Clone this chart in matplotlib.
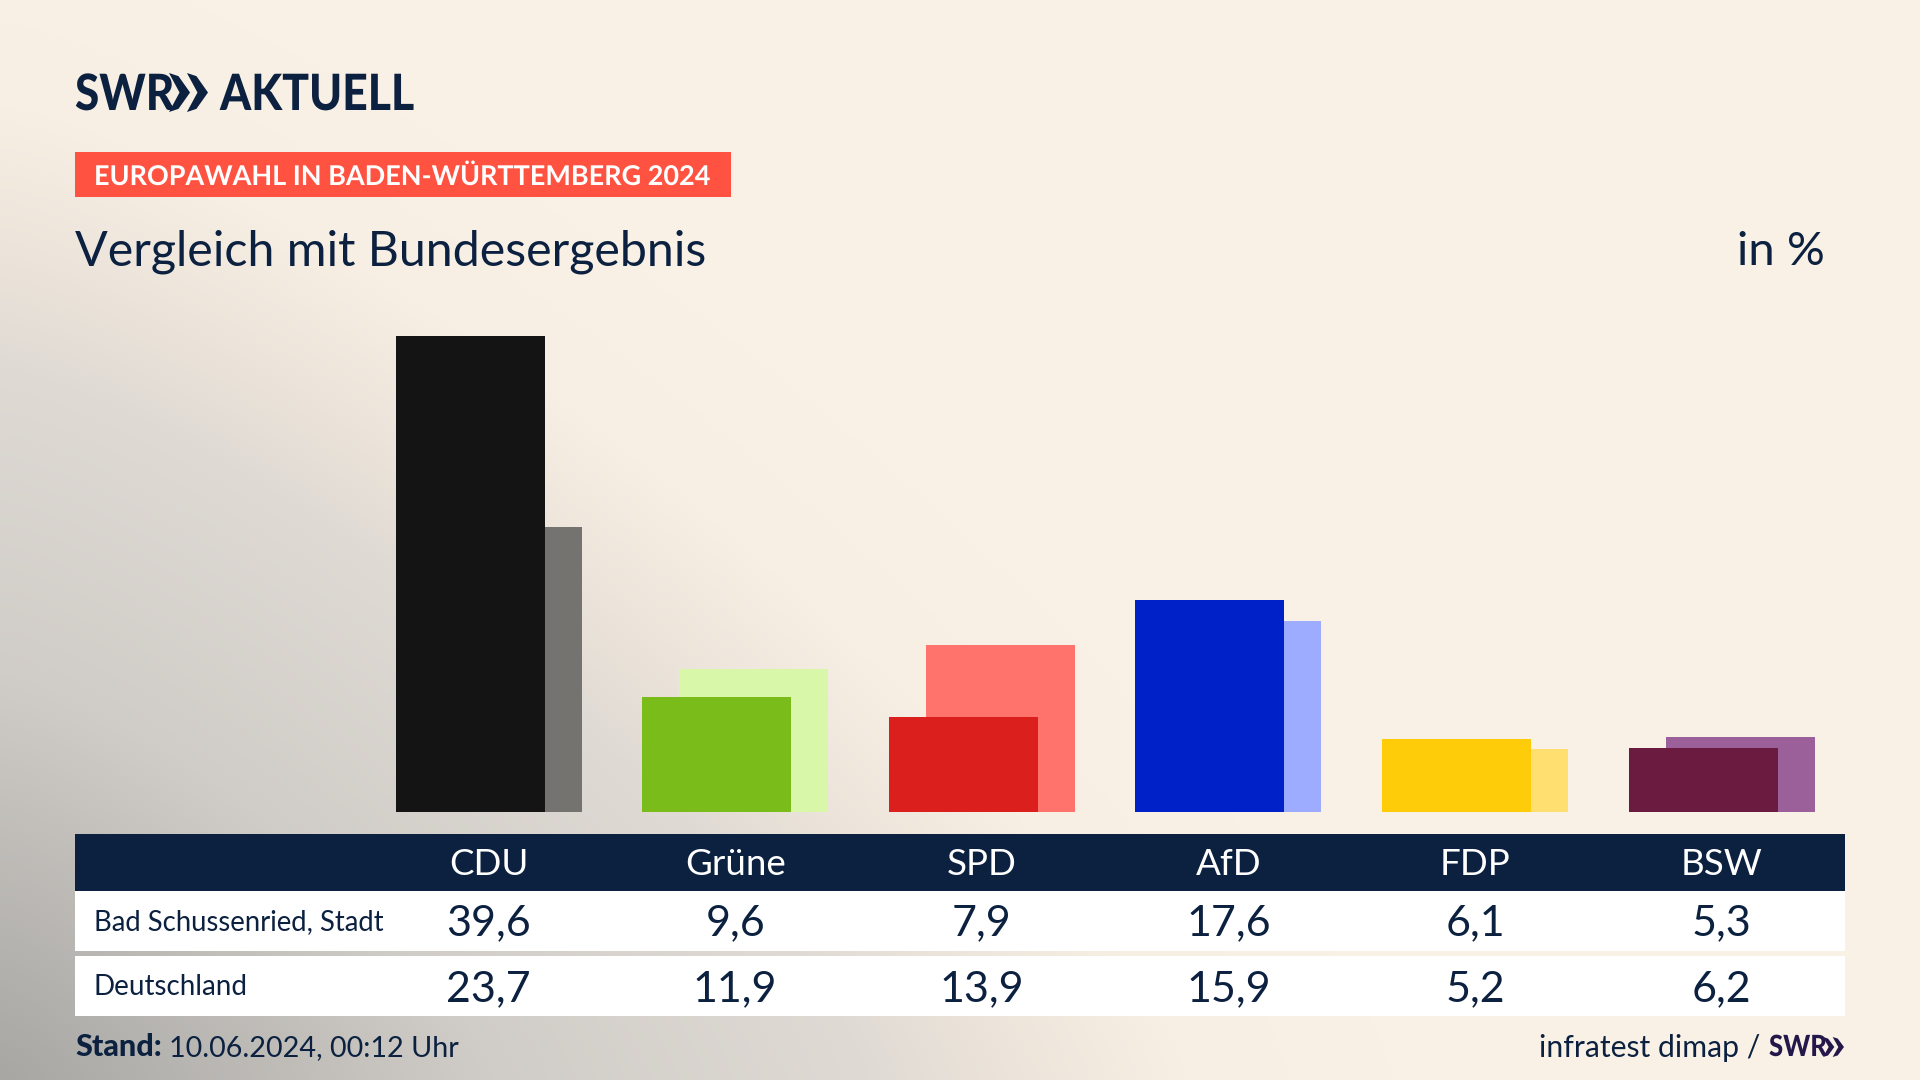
import numpy as np
import matplotlib
matplotlib.use("Agg")
import matplotlib.pyplot as plt
from matplotlib.colors import LinearSegmentedColormap
from matplotlib.patches import Rectangle, Polygon
from matplotlib.patheffects import AbstractPathEffect
from matplotlib.transforms import Affine2D

plt.rcParams['font.family'] = ['Lato', 'DejaVu Sans']

# ---------------------------
# Data
# ---------------------------
parties = ['CDU', 'Grüne', 'SPD', 'AfD', 'FDP', 'BSW']
stadt = [39.6, 9.6, 7.9, 17.6, 6.1, 5.3]
deutschland = [23.7, 11.9, 13.9, 15.9, 5.2, 6.2]
front_colors = ['#141414', '#7abd1a', '#da1f1c', '#0021c8', '#ffcc0a', '#6b1a40']
back_colors = ['#74736f', '#d8f7a8', '#ff736c', '#9dacff', '#ffdf6f', '#9b6099']
row_labels = ['Bad Schussenried, Stadt', 'Deutschland']

NAVY = '#0c2140'

def fmt(v):
    return f"{v:.1f}".replace('.', ',')

class Squeeze(AbstractPathEffect):
    # narrows a text horizontally around its left edge (logo lettering is condensed)
    def __init__(self, x0, sx):
        super().__init__()
        self.x0 = x0
        self.sx = sx

    def draw_path(self, renderer, gc, tpath, affine, rgbFace=None):
        squeeze = Affine2D().translate(-self.x0, 0).scale(self.sx, 1).translate(self.x0, 0)
        renderer.draw_path(gc, tpath, affine + squeeze, rgbFace)

fig = plt.figure(figsize=(19.2, 10.8), dpi=100)

# full canvas in pixels, background and table live here
bg = fig.add_axes([0, 0, 1, 1])
bg.set_xlim(0, 1920)
bg.set_ylim(1080, 0)
bg.axis('off')

# soft grey glow from the lower left corner
gx, gy = np.meshgrid(np.linspace(0, 1920, 480), np.linspace(0, 1080, 270))
p = 1.3
t = np.clip(((gx / 1400) ** p + ((1080 - gy) / 1150) ** p) ** (1 / p), 0, 1)
cmap = LinearSegmentedColormap.from_list(
    'glow', [(0, '#a8a7a4'), (0.35, '#d0ccc7'), (0.62, '#dfdad4'),
             (0.72, '#ece4da'), (0.85, '#f7efe4'), (1, '#faf1e6')])
bg.imshow(t, cmap=cmap, extent=(0, 1920, 1080, 0), aspect='auto', vmin=0, vmax=1, zorder=0)

def chevrons(x, y, w, h, color):
    # the two SWR arrows
    cw = w * 0.54
    for x0 in (x, x + w - cw):
        pts = [(x0, y), (x0 + cw * 0.45, y + h * 0.08), (x0 + cw, y + h / 2),
               (x0 + cw * 0.45, y + h * 0.92), (x0, y + h), (x0 + cw * 0.5, y + h / 2)]
        bg.add_patch(Polygon(pts, closed=True, color=color, lw=0, zorder=3))

# logo
bg.text(75, 110, 'SWR', fontsize=36, fontweight='black', color=NAVY, va='baseline', zorder=3,
        path_effects=[Squeeze(75, 0.88)])
chevrons(169, 73, 39, 39, NAVY)
bg.text(220, 110, 'AKTUELL', fontsize=36, fontweight='black', color=NAVY, va='baseline', zorder=3,
        path_effects=[Squeeze(220, 0.89)])

# banner and headline
bg.add_patch(Rectangle((75, 152), 656, 45, color='#ff5240', lw=0, zorder=2))
bg.text(94, 185, 'EUROPAWAHL IN BADEN-WÜRTTEMBERG 2024', fontsize=19.6, fontweight='bold',
        color='white', va='baseline', zorder=3, path_effects=[Squeeze(94, 0.992)])
bg.text(75, 265, 'Vergleich mit Bundesergebnis', fontsize=34.8, color=NAVY, va='baseline', zorder=3)
bg.text(1825, 265, 'in %', fontsize=34, color=NAVY, ha='right', va='baseline', zorder=3)

# ---------------------------
# Bars
# ---------------------------
# x = 0..5 is one party per step, y = 0 sits on the 812 px baseline
step = 246.6
px_per_unit = 12.03
left = 488.6 - 0.5 * step
right = left + 6 * step
top = 812 - 40 * px_per_unit
ax = fig.add_axes([left / 1920, 1 - 812 / 1080, (right - left) / 1920, (812 - top) / 1080])
ax.patch.set_alpha(0)
ax.set_xlim(-0.5, 5.5)
ax.set_ylim(0, 40)
ax.axis('off')

x = np.arange(len(parties))
bar_w = 149 / step
off = 18.5 / step
ax.bar(x + off, deutschland, width=bar_w, color=back_colors, zorder=1)
ax.bar(x - off, stadt, width=bar_w, color=front_colors, zorder=2)

# ---------------------------
# Table
# ---------------------------
bg.add_patch(Rectangle((75, 834), 1770, 57, color=NAVY, lw=0, zorder=2))
bg.add_patch(Rectangle((75, 891), 1770, 60, color='white', lw=0, zorder=2))
bg.add_patch(Rectangle((75, 956), 1770, 60, color='white', lw=0, zorder=2))

centers = 488.6 + x * step
for c, party, a, b in zip(centers, parties, stadt, deutschland):
    bg.text(c, 875, party, fontsize=26.5, color='white', ha='center', va='baseline', zorder=3)
    bg.text(c, 935, fmt(a), fontsize=31, color=NAVY, ha='center', va='baseline', zorder=3)
    bg.text(c, 1001, fmt(b), fontsize=31, color=NAVY, ha='center', va='baseline', zorder=3)

bg.text(94, 930, row_labels[0], fontsize=19.8, color=NAVY, va='baseline', zorder=3)
bg.text(94, 995, row_labels[1], fontsize=20, color=NAVY, va='baseline', zorder=3)

# footer
bg.text(75, 1056, 'Stand:', fontsize=22, fontweight='black', color=NAVY, va='baseline', zorder=3)
bg.text(169, 1056, '10.06.2024, 00:12 Uhr', fontsize=20.7, color=NAVY, va='baseline', zorder=3)
bg.text(1760, 1057, 'infratest dimap /', fontsize=21.7, color=NAVY, ha='right', va='baseline', zorder=3)
bg.text(1769, 1056, 'SWR', fontsize=21, fontweight='black', color='#24174a', va='baseline', zorder=3,
        path_effects=[Squeeze(1769, 0.88)])
chevrons(1823, 1037, 21, 20, '#24174a')

fig.savefig('out.png', dpi=100)
